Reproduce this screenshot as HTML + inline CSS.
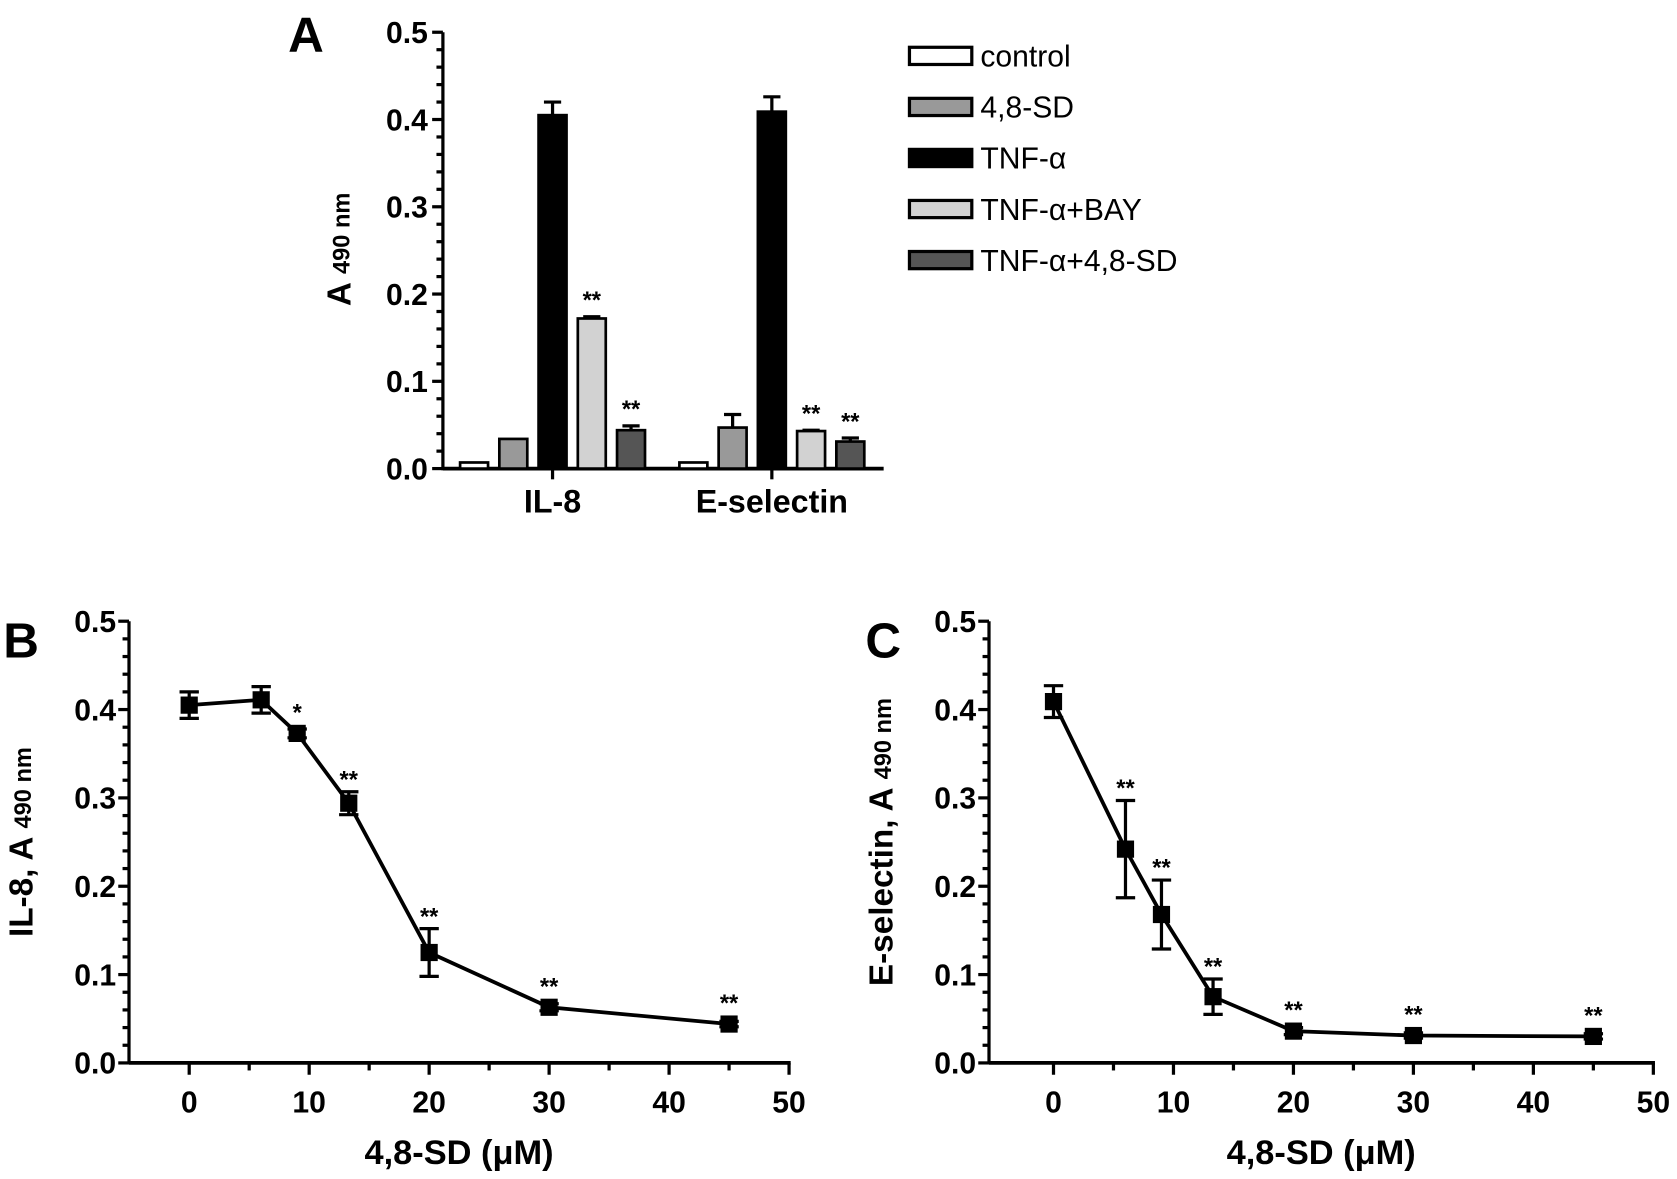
<!DOCTYPE html>
<html><head><meta charset="utf-8"><style>
html,body{margin:0;padding:0;background:#fff;}
svg{display:block;font-family:"Liberation Sans",Arial,sans-serif;}
</style></head><body>
<svg id="fig" width="1677" height="1179" viewBox="0 0 1560 1097" preserveAspectRatio="none" xmlns="http://www.w3.org/2000/svg"></svg>
<script>
// ---- Panel A data ----
const groupsA = ["IL-8", "E-selectin"];
const seriesNames = ["control", "4,8-SD", "TNF-\u03b1", "TNF-\u03b1+BAY", "TNF-\u03b1+4,8-SD"];
const valuesIL8 = [0.007, 0.034, 0.405, 0.172, 0.044];
const errIL8 = [0.0, 0.0, 0.015, 0.002, 0.005];
const starsIL8 = ["", "", "", "**", "**"];
const valuesESel = [0.007, 0.047, 0.409, 0.043, 0.031];
const errESel = [0.0, 0.015, 0.017, 0.001, 0.004];
const starsESel = ["", "", "", "**", "**"];
const yTicks = ["0.0", "0.1", "0.2", "0.3", "0.4", "0.5"];
// ---- Panel B data ----
const doseB = [0, 6, 9, 13.3, 20, 30, 45];
const il8B = [0.405, 0.411, 0.373, 0.294, 0.125, 0.063, 0.044];
const il8ErrB = [0.015, 0.015, 0.005, 0.013, 0.027, 0.004, 0.003];
const starsB = ["", "", "*", "**", "**", "**", "**"];
// ---- Panel C data ----
const doseC = [0, 6, 9, 13.3, 20, 30, 45];
const eselC = [0.409, 0.242, 0.168, 0.075, 0.036, 0.031, 0.030];
const eselErrC = [0.018, 0.055, 0.039, 0.020, 0.004, 0.003, 0.003];
const starsC = ["", "**", "**", "**", "**", "**", "**"];
const xTicks = ["0", "10", "20", "30", "40", "50"];

const svg = document.getElementById('fig');
const NS = "http://www.w3.org/2000/svg";
function mk(tag, attrs, parent, text) {
  const e = document.createElementNS(NS, tag);
  for (const k in attrs) e.setAttribute(k, attrs[k]);
  if (text !== undefined) e.textContent = text;
  (parent || svg).appendChild(e);
  return e;
}
const colors = ["#ffffff", "#999999", "#000000", "#d2d2d2", "#555555"];

// ===== Panel A =====
const gA = mk('g', {});


const A_x0 = 412, A_x1 = 822, A_y0 = 436, A_y1 = 30;
const yA = v => A_y0 - (v / 0.5) * (A_y0 - A_y1);
let t = mk('text', {x: 268, y: 48, 'font-size': 46, 'font-weight': 'bold'}, gA, 'A');


for (let i = 0; i <= 25; i++) {
  const v = i * 0.02, major = i % 5 === 0;
  mk('line', {x1: A_x0 - (major ? 10 : 6), x2: A_x0, y1: yA(v), y2: yA(v), stroke: '#000', 'stroke-width': 3}, gA);
}
yTicks.forEach((lab, i) => {
  const e = mk('text', {x: 398, y: yA(parseFloat(lab)) + 10, 'font-size': 28, 'font-weight': 'bold', 'text-anchor': 'end'}, gA, lab);
  
  
});
mk('line', {x1: A_x0, x2: A_x0, y1: A_y1, y2: A_y0 + 1.5, stroke: '#000', 'stroke-width': 3}, gA);
mk('line', {x1: A_x0, x2: A_x1, y1: A_y0, y2: A_y0, stroke: '#000', 'stroke-width': 3.5}, gA);
t = mk('text', {transform: 'translate(326,232) rotate(-90)', 'font-size': 31, 'font-weight': 'bold', 'text-anchor': 'middle'}, gA);


mk('tspan', {}, t, 'A ');
mk('tspan', {'font-size': 22, dy: -1}, t, '490 nm');

const groupCenters = [514, 718], barStep = 36.5, barW = 26;
const allVals = [valuesIL8, valuesESel], allErr = [errIL8, errESel], allStars = [starsIL8, starsESel];
groupsA.forEach((g, gi) => {
  const cx = groupCenters[gi];
  mk('line', {x1: cx, x2: cx, y1: A_y0, y2: A_y0 + 10, stroke: '#000', 'stroke-width': 3}, gA);
  const lab = mk('text', {x: cx, y: 477, 'font-size': 30, 'font-weight': 'bold', 'text-anchor': 'middle'}, gA, g);
  
  
  allVals[gi].forEach((v, si) => {
    const bx = cx + (si - 2) * barStep;
    const top = yA(v), err = allErr[gi][si];
    if (err > 0) {
      mk('line', {x1: bx, x2: bx, y1: yA(v + err), y2: top, stroke: '#000', 'stroke-width': 3}, gA);
      mk('line', {x1: bx - 8, x2: bx + 8, y1: yA(v + err), y2: yA(v + err), stroke: '#000', 'stroke-width': 3}, gA);
      if (si !== 2) mk('line', {x1: bx, x2: bx, y1: top, y2: yA(Math.max(v - err, 0)), stroke: '#000', 'stroke-width': 3}, gA);
      if (si !== 2) mk('line', {x1: bx - 8, x2: bx + 8, y1: yA(v - err), y2: yA(v - err), stroke: '#000', 'stroke-width': 3}, gA);
    }
    const r = mk('rect', {x: bx - barW / 2, y: top, width: barW, height: A_y0 - top, fill: colors[si], stroke: '#000', 'stroke-width': 2.5}, gA);
    
    
    if (allStars[gi][si]) {
      const s = mk('text', {x: bx, y: yA(v + err) - 8, 'font-size': 22, 'font-weight': 'bold', 'text-anchor': 'middle'}, gA, allStars[gi][si]);
      
      
    }
  });
});
// legend
seriesNames.forEach((n, i) => {
  const ly = 52 + i * 47.5;
  const g = mk('g', {}, gA);
  
  
  mk('rect', {x: 846, y: ly - 8, width: 58, height: 16, fill: colors[i], stroke: '#000', 'stroke-width': 3}, g);
  mk('text', {x: 912, y: ly + 10, 'font-size': 28}, g, n);
});

// ===== Line panels =====
function linePanel(name, label, labX, X0, xZero, xFifty, doses, vals, errs, stars, ytitle) {
  const g = mk('g', {});
  
  
  const Y0 = 989, Y1 = 578;
  const y = v => Y0 - (v / 0.5) * (Y0 - Y1);
  const x = d => xZero + (d / 50) * (xFifty - xZero);
  let e = mk('text', {x: labX, y: 612, 'font-size': 46, 'font-weight': 'bold'}, g, label);
  
  
  for (let i = 0; i <= 25; i++) {
    const v = i * 0.02, major = i % 5 === 0;
    mk('line', {x1: X0 - (major ? 10 : 6), x2: X0, y1: y(v), y2: y(v), stroke: '#000', 'stroke-width': 3}, g);
  }
  yTicks.forEach(lab => {
    const tt = mk('text', {x: X0 - 12, y: y(parseFloat(lab)) + 10, 'font-size': 28, 'font-weight': 'bold', 'text-anchor': 'end'}, g, lab);
    
    
  });
  mk('line', {x1: X0, x2: X0, y1: Y1, y2: Y0 + 1.5, stroke: '#000', 'stroke-width': 3}, g);
  mk('line', {x1: X0, x2: xFifty + 1.5, y1: Y0, y2: Y0, stroke: '#000', 'stroke-width': 3.5}, g);
  for (let d = 0; d <= 50; d += 5) {
    mk('line', {x1: x(d), x2: x(d), y1: Y0, y2: Y0 + (d % 10 === 0 ? 11 : 7), stroke: '#000', 'stroke-width': 3}, g);
  }
  xTicks.forEach(lab => {
    const tt = mk('text', {x: x(parseFloat(lab)), y: 1035, 'font-size': 28, 'font-weight': 'bold', 'text-anchor': 'middle'}, g, lab);
    
    
  });
  e = mk('text', {x: (X0 + xFifty) / 2 + 0, y: 1083, 'font-size': 32, 'font-weight': 'bold', 'text-anchor': 'middle'}, g, '4,8-SD (\u03bcM)');
  
  
  e = mk('text', {transform: 'translate(' + (X0 - 90) + ',' + ((Y0 + Y1) / 2) + ') rotate(-90)', 'font-size': 31, 'font-weight': 'bold', 'text-anchor': 'middle'}, g);
  
  
  mk('tspan', {}, e, ytitle + ' ');
  mk('tspan', {'font-size': 22, dy: -1}, e, '490 nm');
  const pts = doses.map((d, i) => x(d) + ',' + y(vals[i])).join(' ');
  const pl = mk('polyline', {points: pts, fill: 'none', stroke: '#000', 'stroke-width': 3.5}, g);
  
  
  doses.forEach((d, i) => {
    const px = x(d), hi = y(vals[i] + errs[i]), lo = y(vals[i] - errs[i]);
    mk('line', {x1: px, x2: px, y1: hi, y2: lo, stroke: '#000', 'stroke-width': 3}, g);
    mk('line', {x1: px - 9, x2: px + 9, y1: hi, y2: hi, stroke: '#000', 'stroke-width': 3}, g);
    mk('line', {x1: px - 9, x2: px + 9, y1: lo, y2: lo, stroke: '#000', 'stroke-width': 3}, g);
    const p = mk('rect', {x: px - 8, y: y(vals[i]) - 8, width: 16, height: 16, fill: '#000'}, g);
    
    
    if (stars[i]) {
      const s = mk('text', {x: px, y: Math.min(hi, y(vals[i]) - 8) - 4, 'font-size': 22, 'font-weight': 'bold', 'text-anchor': 'middle'}, g, stars[i]);
      
      
    }
  });
}
linePanel('panel-b', 'B', 3, 120, 176, 734, doseB, il8B, il8ErrB, starsB, 'IL-8, A');
linePanel('panel-c', 'C', 805, 920, 980, 1538, doseC, eselC, eselErrC, starsC, 'E-selectin, A');
</script>
</body></html>
